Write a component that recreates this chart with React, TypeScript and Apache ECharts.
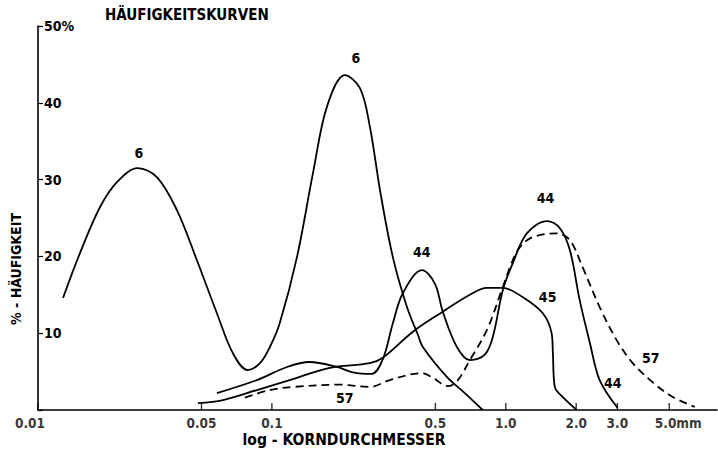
import React, { useEffect, useRef } from 'react';
import * as echarts from 'echarts';

// Curve "6" (solid)
const curve6X = [0.0128, 0.0151, 0.0184, 0.0218, 0.0267, 0.0323, 0.0393, 0.0478, 0.0582, 0.0681, 0.0789, 0.0889, 0.098, 0.108, 0.128, 0.150, 0.172, 0.205, 0.238, 0.262, 0.290, 0.329, 0.378, 0.421, 0.442, 0.560, 0.668, 0.797];
const curve6Y = [14.6, 20.4, 26.4, 29.7, 31.5, 30.3, 26.0, 19.5, 12.6, 7.4, 5.2, 6.1, 8.2, 11.3, 19.9, 30.9, 39.5, 43.6, 41.9, 37.0, 28.6, 19.9, 13.4, 9.8, 8.2, 4.3, 2.2, 0];

// Curve "44" (solid)
const curve44X = [0.0582, 0.0863, 0.116, 0.145, 0.190, 0.222, 0.267, 0.298, 0.329, 0.363, 0.438, 0.497, 0.538, 0.618, 0.702, 0.813, 0.880, 0.971, 1.071, 1.23, 1.50, 1.70, 1.88, 2.07, 2.29, 2.52, 3.01];
const curve44Y = [2.2, 3.9, 5.6, 6.25, 5.6, 4.9, 4.7, 6.6, 11.3, 15.2, 18.2, 16.5, 12.8, 8.2, 6.5, 7.2, 9.5, 15.6, 19.1, 23.0, 24.6, 23.7, 20.8, 14.3, 8.7, 3.9, 0.26];

// Curve "45" (solid)
const curve45X = [0.0483, 0.0618, 0.0863, 0.119, 0.177, 0.262, 0.298, 0.401, 0.538, 0.702, 0.830, 0.971, 1.18, 1.44, 1.57, 1.59, 1.62, 1.75, 2.01];
const curve45Y = [0.9, 1.3, 2.6, 3.9, 5.5, 6.1, 6.8, 10.2, 12.8, 15.0, 15.9, 15.9, 14.7, 12.6, 10.0, 7.4, 3.0, 1.7, 0];

// Curve "57" (dashed)
const curve57X = [0.0767, 0.098, 0.123, 0.195, 0.262, 0.319, 0.438, 0.488, 0.565, 0.624, 0.702, 0.830, 0.971, 1.071, 1.15, 1.30, 1.65, 1.88, 2.13, 2.52, 2.98, 3.49, 4.25, 5.17, 6.43];
const curve57Y = [1.6, 2.6, 3.0, 3.3, 3.0, 3.9, 4.8, 4.2, 3.1, 3.9, 6.5, 10.4, 16.0, 19.5, 21.2, 22.5, 23.0, 22.1, 18.6, 13.4, 9.1, 6.1, 3.6, 1.7, 0.4];

// X axis ticks (log scale, mm)
const xTickValues = [0.01, 0.05, 0.1, 0.5, 1, 2, 3, 5];
const xTickLabels = ['0.01', '0.05', '0.1', '0.5', '1.0', '2.0', '3.0', '5.0mm'];

// Curve annotations (data-space anchors)
const annText = ['6', '6', '44', '44', '45', '44', '57', '57'];
const annX = [0.027, 0.2286, 0.4377, 1.48, 1.51, 2.87, 4.17, 0.205];
const annY = [33.5, 45.8, 20.6, 27.6, 14.7, 3.5, 6.8, 1.6];

const TITLE = 'HÄUFIGKEITSKURVEN';
const X_NAME = 'log - KORNDURCHMESSER';
const Y_NAME = '% - HÄUFIGKEIT';

const FONT = '"DejaVu Sans Condensed", "DejaVu Sans", sans-serif';

const zip = (xs: number[], ys: number[]) => xs.map((x, i) => [x, ys[i]]);

export default function App() {
  const ref = useRef<HTMLDivElement>(null);

  useEffect(() => {
    document.body.style.margin = '0';
    const chart = echarts.init(ref.current as HTMLDivElement, null, { renderer: 'svg' });

    const lineBase = (name: string, data: number[][], dashed: boolean) => ({
      name,
      type: 'line',
      data,
      smooth: 0.35,
      symbol: 'none',
      silent: true,
      lineStyle: { color: '#000', width: 1.8, type: dashed ? [8, 5] : 'solid' },
      z: 3,
    });

    const option: any = {
      animation: false,
      backgroundColor: '#fff',
      title: {
        text: TITLE,
        left: 100,
        top: 2,
        textStyle: { fontFamily: FONT, fontSize: 15, fontWeight: 'bold', color: '#000' },
      },
      grid: { left: 38, right: 1, top: 26, bottom: 46, containLabel: false },
      xAxis: {
        type: 'log',
        logBase: 10,
        min: 0.01,
        max: 8,
        axisLine: { show: true, lineStyle: { color: '#000', width: 1.6 } },
        axisTick: { show: false },
        axisLabel: { show: false },
        splitLine: { show: false },
        minorTick: { show: false },
      },
      yAxis: {
        type: 'value',
        min: 0,
        max: 50,
        interval: 10,
        axisLine: { show: true, lineStyle: { color: '#000', width: 1.6 } },
        axisTick: { show: true, inside: true, length: 5, lineStyle: { color: '#000', width: 1.2 } },
        axisLabel: {
          inside: true,
          margin: 6,
          color: '#000',
          fontFamily: FONT,
          fontSize: 14,
          fontWeight: 'bold',
          formatter: (v: number) => (v === 0 ? '' : v === 50 ? '50%' : String(v)),
        },
        splitLine: { show: false },
      },
      graphic: [
        {
          type: 'text',
          x: 15.5,
          y: 269,
          rotation: Math.PI / 2,
          style: {
            text: Y_NAME,
            fill: '#000',
            fontFamily: FONT,
            fontSize: 14,
            fontWeight: 'bold',
            align: 'center',
            verticalAlign: 'middle',
          },
        },
        {
          type: 'text',
          x: 344,
          y: 440,
          style: {
            text: X_NAME,
            fill: '#000',
            fontFamily: FONT,
            fontSize: 15.5,
            fontWeight: 'bold',
            align: 'center',
            verticalAlign: 'middle',
          },
        },
      ],
      series: [
        lineBase('6', zip(curve6X, curve6Y), false),
        lineBase('44', zip(curve44X, curve44Y), false),
        lineBase('45', zip(curve45X, curve45Y), false),
        lineBase('57', zip(curve57X, curve57Y), true),
        {
          name: 'ticks',
          type: 'scatter',
          silent: true,
          symbol: 'rect',
          symbolSize: [1.4, 7],
          symbolOffset: [0, -3.5],
          itemStyle: { color: '#000' },
          label: {
            show: true,
            position: 'bottom',
            distance: 6,
            color: '#000',
            fontFamily: FONT,
            fontSize: 13.5,
            fontWeight: 'bold',
          },
          data: xTickValues.map((v, i) => ({
            value: [v, 0],
            label: {
              formatter: xTickLabels[i],
              offset: i === 0 ? [-8, 0] : i === xTickValues.length - 1 ? [9, 0] : [0, 0],
            },
          })),
          z: 4,
        },
        {
          name: 'annotations',
          type: 'scatter',
          silent: true,
          symbol: 'circle',
          symbolSize: 1,
          itemStyle: { color: 'rgba(0,0,0,0)' },
          label: {
            show: true,
            position: [0.5, 0.5],
            align: 'center',
            verticalAlign: 'middle',
            formatter: '{b}',
            color: '#000',
            opacity: 1,
            textBorderWidth: 0,
            fontFamily: FONT,
            fontSize: 14,
            fontWeight: 'bold',
          },
          data: annX.map((x, i) => ({ value: [x, annY[i]], name: annText[i] })),
          z: 5,
        },
      ],
    };

    chart.setOption(option);
    return () => chart.dispose();
  }, []);

  return <div ref={ref} style={{ width: 718, height: 456 }} />;
}
